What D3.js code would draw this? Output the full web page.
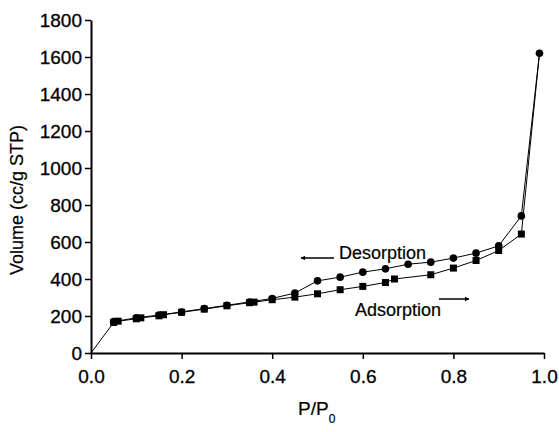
<!DOCTYPE html>
<html>
<head>
<meta charset="utf-8">
<script src="https://cdn.jsdelivr.net/npm/d3@7"></script>
<style>
  html, body { margin: 0; padding: 0; background: #fff; }
  svg { display: block; font-family: "Liberation Sans", Arial, sans-serif; }
</style>
</head>
<body>
<div id="chart"></div>
<script>
// Adsorption branch (squares); starts at origin, ends at top point
const adsP = [0, 0.05, 0.06, 0.10, 0.11, 0.15, 0.16, 0.20, 0.25, 0.30, 0.35, 0.36, 0.40, 0.45, 0.50, 0.55, 0.60, 0.65, 0.67, 0.75, 0.80, 0.85, 0.90, 0.95, 0.99];
const adsV = [0, 165, 172, 185, 190, 201, 207, 220, 237, 255, 272, 275, 288, 302, 320, 342, 360, 381, 400, 423, 459, 500, 554, 643, 1620];

// Desorption branch (circles)
const desP = [0.99, 0.95, 0.90, 0.85, 0.80, 0.75, 0.70, 0.65, 0.60, 0.55, 0.50, 0.45, 0.40, 0.35, 0.30, 0.25, 0.20, 0.15, 0.10, 0.05];
const desV = [1620, 741, 579, 540, 513, 491, 480, 455, 437, 410, 390, 324, 295, 276, 258, 240, 222, 205, 190, 170];

const xTicks = [0, 0.2, 0.4, 0.6, 0.8, 1.0];
const xMinor = [0.1, 0.3, 0.5, 0.7, 0.9];
const yTicks = [0, 200, 400, 600, 800, 1000, 1200, 1400, 1600, 1800];
const yMinor = [100, 300, 500, 700, 900, 1100, 1300, 1500, 1700];

const W = 559, H = 432;
const m = { left: 91, right: 15, top: 20, bottom: 79 };

const svg = d3.select("#chart").append("svg")
    .attr("width", W)
    .attr("height", H);

const x = d3.scaleLinear().domain([0, 1]).range([m.left, W - m.right]);
const y = d3.scaleLinear().domain([0, 1800]).range([H - m.bottom, m.top]);

// Axes
const gx = svg.append("g").attr("transform", `translate(0,${y(0)})`);
gx.call(d3.axisBottom(x).tickValues(xMinor).tickSize(4).tickFormat(""));
gx.call(d3.axisBottom(x).tickValues(xTicks).tickSize(6).tickSizeOuter(0)
    .tickFormat(d3.format(".1f")).tickPadding(11));

const gy = svg.append("g").attr("transform", `translate(${x(0)},0)`);
gy.call(d3.axisLeft(y).tickValues(yMinor).tickSize(4).tickFormat(""));
gy.call(d3.axisLeft(y).tickValues(yTicks).tickSize(6).tickSizeOuter(0)
    .tickFormat(d3.format("d")).tickPadding(3));

svg.selectAll(".domain").attr("stroke", "#000").attr("stroke-width", 2);
svg.selectAll(".tick line").attr("stroke", "#000").attr("stroke-width", 1.5);
svg.selectAll(".tick text").attr("font-size", 19).attr("fill", "#000")
    .attr("stroke", "#000").attr("stroke-width", 0.3)
    .attr("font-family", "'Liberation Sans', Arial, sans-serif");
gy.selectAll(".tick text").attr("dy", "0.34em");

// Axis titles
svg.append("text")
    .attr("transform", `translate(23,200) rotate(-90)`)
    .attr("text-anchor", "middle")
    .attr("font-size", 18)
    .attr("stroke", "#000").attr("stroke-width", 0.2)
    .text("Volume (cc/g STP)");

const xl = svg.append("text")
    .attr("x", 298)
    .attr("y", 415)
    .attr("font-size", 19)
    .attr("stroke", "#000").attr("stroke-width", 0.2);
xl.append("tspan").text("P/P");
xl.append("tspan").attr("font-size", 12).attr("dy", 8).text("0");

// Lines
const ads = adsP.map((p, i) => ({ p, v: adsV[i] }));
const des = desP.map((p, i) => ({ p, v: desV[i] }));
const line = d3.line().x(d => x(d.p)).y(d => y(d.v));

svg.append("path").datum(ads)
    .attr("d", line).attr("fill", "none").attr("stroke", "#000").attr("stroke-width", 1);
svg.append("path").datum(des)
    .attr("d", line).attr("fill", "none").attr("stroke", "#000").attr("stroke-width", 1);

// Markers: squares for adsorption (skip origin and shared top point), circles for desorption
svg.append("g").selectAll("rect")
    .data(ads.slice(1, -1))
    .join("rect")
    .attr("x", d => x(d.p) - 3.5)
    .attr("y", d => y(d.v) - 3.5)
    .attr("width", 7).attr("height", 7)
    .attr("fill", "#000");

svg.append("g").selectAll("circle")
    .data(des)
    .join("circle")
    .attr("cx", d => x(d.p))
    .attr("cy", d => y(d.v))
    .attr("r", 3.8)
    .attr("fill", "#000");

// Annotations with arrows
svg.append("defs").append("marker")
    .attr("id", "ah")
    .attr("viewBox", "0 0 10 10")
    .attr("refX", 9).attr("refY", 5)
    .attr("markerWidth", 6).attr("markerHeight", 3)
    .attr("orient", "auto")
    .append("path").attr("d", "M0,0L10,5L0,10Z").attr("fill", "#000");

svg.append("line")
    .attr("x1", 334).attr("y1", 258).attr("x2", 301).attr("y2", 258)
    .attr("stroke", "#000").attr("stroke-width", 1.5).attr("marker-end", "url(#ah)");
svg.append("text")
    .attr("x", 339).attr("y", 259)
    .attr("font-size", 18)
    .attr("stroke", "#000").attr("stroke-width", 0.2)
    .text("Desorption");

svg.append("line")
    .attr("x1", 439).attr("y1", 299).attr("x2", 469).attr("y2", 299)
    .attr("stroke", "#000").attr("stroke-width", 1.5).attr("marker-end", "url(#ah)");
svg.append("text")
    .attr("x", 355).attr("y", 316)
    .attr("font-size", 18)
    .attr("stroke", "#000").attr("stroke-width", 0.2)
    .text("Adsorption");
</script>
</body>
</html>
